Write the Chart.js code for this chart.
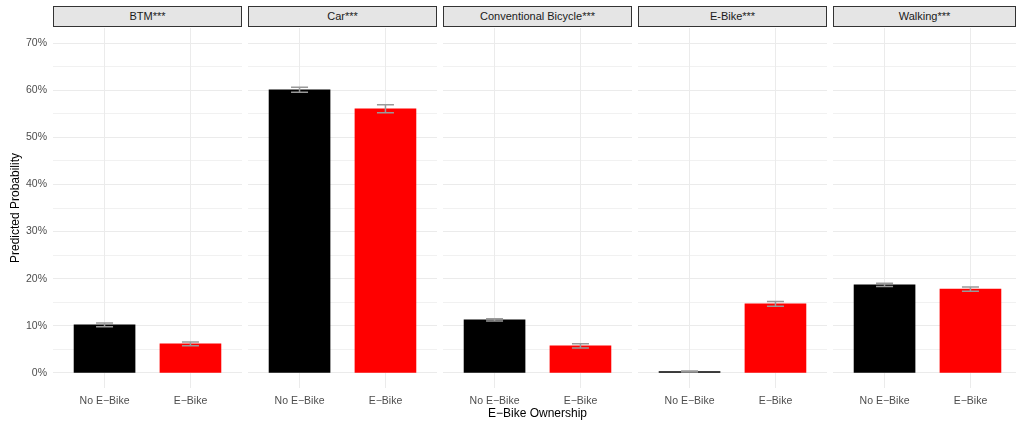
<!DOCTYPE html>
<html>
<head>
<meta charset="utf-8">
<script src="https://cdn.jsdelivr.net/npm/chart.js@4.4.0/dist/chart.umd.min.js"></script>
<style>
  body { margin: 0; width: 1016px; height: 423px; overflow: hidden; background: #fff; position: relative;
         font-family: "Liberation Sans", Arial, Helvetica, sans-serif; }
  canvas { position: absolute; top: 28px; }
  .strip { position: absolute; top: 6px; height: 21px; box-sizing: border-box; border: 1px solid #333;
           background: #e5e5e5; color: #1a1a1a; font-size: 11px; line-height: 19px; text-align: center; white-space: nowrap; }
</style>
</head>
<body>
<script>
// Travel modes (one facet each) and ownership groups
const modes = ['BTM***', 'Car***', 'Conventional Bicycle***', 'E-Bike***', 'Walking***'];
const groups = ['No E\u2212Bike', 'E\u2212Bike'];

// Predicted probabilities per mode
const noEbike = [0.102, 0.601, 0.1125, 0.003, 0.187];
const ebike = [0.0615, 0.5605, 0.0573, 0.1465, 0.178];

// Half-width of the confidence interval
const noEbikeErr = [0.004, 0.0055, 0.0025, 0.001, 0.0035];
const ebikeErr = [0.004, 0.0085, 0.0045, 0.005, 0.0045];

// Y gridlines every 5%, labels every 10%
const yTicks = [0, 0.05, 0.1, 0.15, 0.2, 0.25, 0.3, 0.35, 0.4, 0.45, 0.5, 0.55, 0.6, 0.65, 0.7];

const panelLeft = [53, 248, 443, 638, 833];
const panelWidth = 189;
const axisWidth = 53;
const GRID = '#ebebeb';

// Draws whiskers with caps over each bar
const errorBars = {
    id: 'errorBars',
    afterDatasetsDraw(chart) {
        const { ctx, scales: { x, y } } = chart;
        const ds = chart.data.datasets[0];
        ctx.save();
        ctx.strokeStyle = '#999999';
        ctx.lineWidth = 1.5;
        ds.data.forEach((p, j) => {
            const e = ds.errors[j];
            const px = x.getPixelForValue(p.x);
            const lo = y.getPixelForValue(p.y - e);
            const hi = y.getPixelForValue(p.y + e);
            ctx.beginPath();
            ctx.moveTo(px, lo); ctx.lineTo(px, hi);
            ctx.moveTo(px - 8.5, lo); ctx.lineTo(px + 8.5, lo);
            ctx.moveTo(px - 8.5, hi); ctx.lineTo(px + 8.5, hi);
            ctx.stroke();
        });
        ctx.restore();
    }
};

function makePanel(i) {
    const first = i === 0;
    const canvas = document.createElement('canvas');
    const left = first ? 0 : panelLeft[i];
    const width = first ? panelLeft[0] + panelWidth : panelWidth;
    canvas.width = width;
    canvas.height = 395;
    canvas.style.left = left + 'px';
    document.body.appendChild(canvas);

    const strip = document.createElement('div');
    strip.className = 'strip';
    strip.style.left = panelLeft[i] + 'px';
    strip.style.width = Math.min(panelWidth, 1016 - panelLeft[i]) + 'px';
    strip.textContent = modes[i];
    document.body.appendChild(strip);

    new Chart(canvas, {
        type: 'bar',
        data: {
            datasets: [{
                data: [{ x: 1, y: noEbike[i] }, { x: 2, y: ebike[i] }],
                errors: [noEbikeErr[i], ebikeErr[i]],
                backgroundColor: ['#000000', '#ff0000'],
                barThickness: 61
            }]
        },
        options: {
            responsive: false,
            animation: false,
            layout: { padding: 0 },
            scales: {
                x: {
                    type: 'linear',
                    min: 0.4,
                    max: 2.6,
                    offset: false,
                    afterBuildTicks: s => { s.ticks = [{ value: 1 }, { value: 2 }]; },
                    afterFit: s => { s.height = 35; s.paddingLeft = 0; s.paddingRight = 0; },
                    grid: { color: GRID, lineWidth: 1, drawTicks: false, offset: false },
                    border: { display: false },
                    ticks: {
                        padding: 7,
                        color: '#4d4d4d',
                        font: { family: 'Liberation Sans', size: 10.5 },
                        callback: v => groups[v - 1]
                    },
                    title: {
                        display: i === 2,
                        text: 'E\u2212Bike Ownership',
                        color: '#000',
                        font: { family: 'Liberation Sans', size: 12 },
                        padding: { top: 0, bottom: 2 }
                    }
                },
                y: {
                    min: -0.032,
                    max: 0.732,
                    afterBuildTicks: s => { s.ticks = yTicks.map(v => ({ value: v })); },
                    afterFit: s => { s.width = first ? axisWidth : 0; s.paddingTop = 0; s.paddingBottom = 0; },
                    grid: {
                        color: GRID,
                        lineWidth: c => (c.index % 2 === 0 ? 1 : 0.7),
                        drawTicks: false
                    },
                    border: { display: false },
                    ticks: {
                        display: first,
                        padding: 6,
                        color: '#4d4d4d',
                        font: { family: 'Liberation Sans', size: 10.5 },
                        callback: (v, idx) => (idx % 2 === 0 ? Math.round(v * 100) + '%' : '')
                    },
                    title: {
                        display: first,
                        text: 'Predicted Probability',
                        color: '#000',
                        font: { family: 'Liberation Sans', size: 12 },
                        padding: { top: 8, bottom: 0 }
                    }
                }
            },
            plugins: {
                legend: { display: false },
                tooltip: { enabled: false }
            }
        },
        plugins: [errorBars]
    });
}

modes.forEach((m, i) => makePanel(i));
</script>
</body>
</html>
